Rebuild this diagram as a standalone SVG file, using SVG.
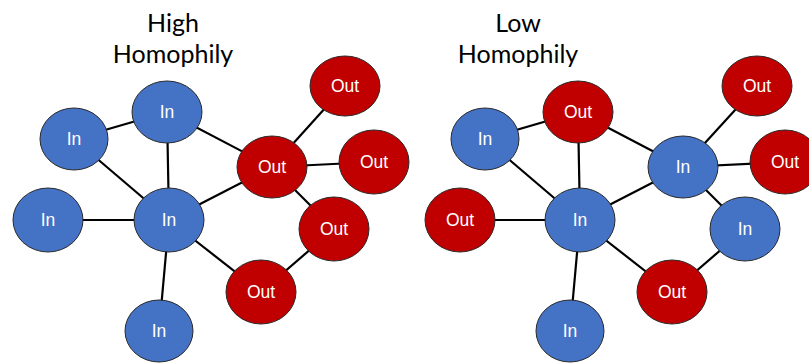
<svg xmlns="http://www.w3.org/2000/svg" width="809" height="363" viewBox="0 0 809 363">
<style>
.in{fill:#4472C4;stroke:#2a2a2a;stroke-width:1}
.out{fill:#C00000;stroke:#2a2a2a;stroke-width:1}
.lbl{font-family:"Liberation Sans",Arial,sans-serif;font-size:17.5px;fill:#fff;text-anchor:middle}
.title{font-family:Lato,"Liberation Sans",sans-serif;font-size:25px;fill:#000;text-anchor:middle}
.edges line{stroke:#000;stroke-width:2.2}
</style>
<rect width="809" height="363" fill="#fff"/>
<text class="title" x="173" y="32">High</text>
<text class="title" x="173" y="63">Homophily</text>
<text class="title" x="518" y="32">Low</text>
<text class="title" x="518" y="63">Homophily</text>
<g class="edges">
<line x1="74" y1="139" x2="167" y2="112"/>
<line x1="74" y1="139" x2="169" y2="220"/>
<line x1="167" y1="112" x2="169" y2="220"/>
<line x1="167" y1="112" x2="272" y2="167"/>
<line x1="48" y1="220" x2="169" y2="220"/>
<line x1="169" y1="220" x2="272" y2="167"/>
<line x1="169" y1="220" x2="159" y2="331"/>
<line x1="169" y1="220" x2="261" y2="292"/>
<line x1="272" y1="167" x2="345" y2="86"/>
<line x1="272" y1="167" x2="374" y2="162"/>
<line x1="272" y1="167" x2="334" y2="229"/>
<line x1="334" y1="229" x2="261" y2="292"/>
<line x1="485" y1="139" x2="578" y2="112"/>
<line x1="485" y1="139" x2="580" y2="220"/>
<line x1="578" y1="112" x2="580" y2="220"/>
<line x1="578" y1="112" x2="683" y2="167"/>
<line x1="460" y1="220" x2="580" y2="220"/>
<line x1="580" y1="220" x2="683" y2="167"/>
<line x1="580" y1="220" x2="570" y2="331"/>
<line x1="580" y1="220" x2="672" y2="292"/>
<line x1="683" y1="167" x2="757" y2="86"/>
<line x1="683" y1="167" x2="785" y2="162"/>
<line x1="683" y1="167" x2="745" y2="229"/>
<line x1="745" y1="229" x2="672" y2="292"/>
</g>
<g id="h-in-a"><ellipse class="in" cx="74" cy="139" rx="34" ry="31"/><text class="lbl" x="74" y="145">In</text></g>
<g id="h-in-b"><ellipse class="in" cx="167" cy="112" rx="35" ry="31"/><text class="lbl" x="167" y="118">In</text></g>
<g id="h-in-c"><ellipse class="in" cx="48" cy="220" rx="35" ry="32"/><text class="lbl" x="48" y="226">In</text></g>
<g id="h-in-d"><ellipse class="in" cx="169" cy="220" rx="35" ry="32"/><text class="lbl" x="169" y="226">In</text></g>
<g id="h-in-e"><ellipse class="in" cx="159" cy="331" rx="34" ry="31"/><text class="lbl" x="159" y="337">In</text></g>
<g id="h-out-f"><ellipse class="out" cx="272" cy="167" rx="35" ry="31"/><text class="lbl" x="272" y="173">Out</text></g>
<g id="h-out-g"><ellipse class="out" cx="345" cy="86" rx="35" ry="30"/><text class="lbl" x="345" y="92">Out</text></g>
<g id="h-out-h"><ellipse class="out" cx="374" cy="162" rx="35" ry="32"/><text class="lbl" x="374" y="168">Out</text></g>
<g id="h-out-i"><ellipse class="out" cx="334" cy="229" rx="35" ry="32"/><text class="lbl" x="334" y="235">Out</text></g>
<g id="h-out-j"><ellipse class="out" cx="261" cy="292" rx="35" ry="32"/><text class="lbl" x="261" y="298">Out</text></g>
<g id="l-in-a"><ellipse class="in" cx="485" cy="139" rx="34" ry="31"/><text class="lbl" x="485" y="145">In</text></g>
<g id="l-out-b"><ellipse class="out" cx="578" cy="112" rx="35" ry="31"/><text class="lbl" x="578" y="118">Out</text></g>
<g id="l-out-c"><ellipse class="out" cx="460" cy="220" rx="35" ry="32"/><text class="lbl" x="460" y="226">Out</text></g>
<g id="l-in-d"><ellipse class="in" cx="580" cy="220" rx="35" ry="32"/><text class="lbl" x="580" y="226">In</text></g>
<g id="l-in-e"><ellipse class="in" cx="570" cy="331" rx="34" ry="31"/><text class="lbl" x="570" y="337">In</text></g>
<g id="l-in-f"><ellipse class="in" cx="683" cy="167" rx="35" ry="31"/><text class="lbl" x="683" y="173">In</text></g>
<g id="l-out-g"><ellipse class="out" cx="757" cy="86" rx="35" ry="30"/><text class="lbl" x="757" y="92">Out</text></g>
<g id="l-out-h"><ellipse class="out" cx="785" cy="162" rx="35" ry="32"/><text class="lbl" x="785" y="168">Out</text></g>
<g id="l-in-i"><ellipse class="in" cx="745" cy="229" rx="35" ry="32"/><text class="lbl" x="745" y="235">In</text></g>
<g id="l-out-j"><ellipse class="out" cx="672" cy="292" rx="35" ry="32"/><text class="lbl" x="672" y="298">Out</text></g>
</svg>
